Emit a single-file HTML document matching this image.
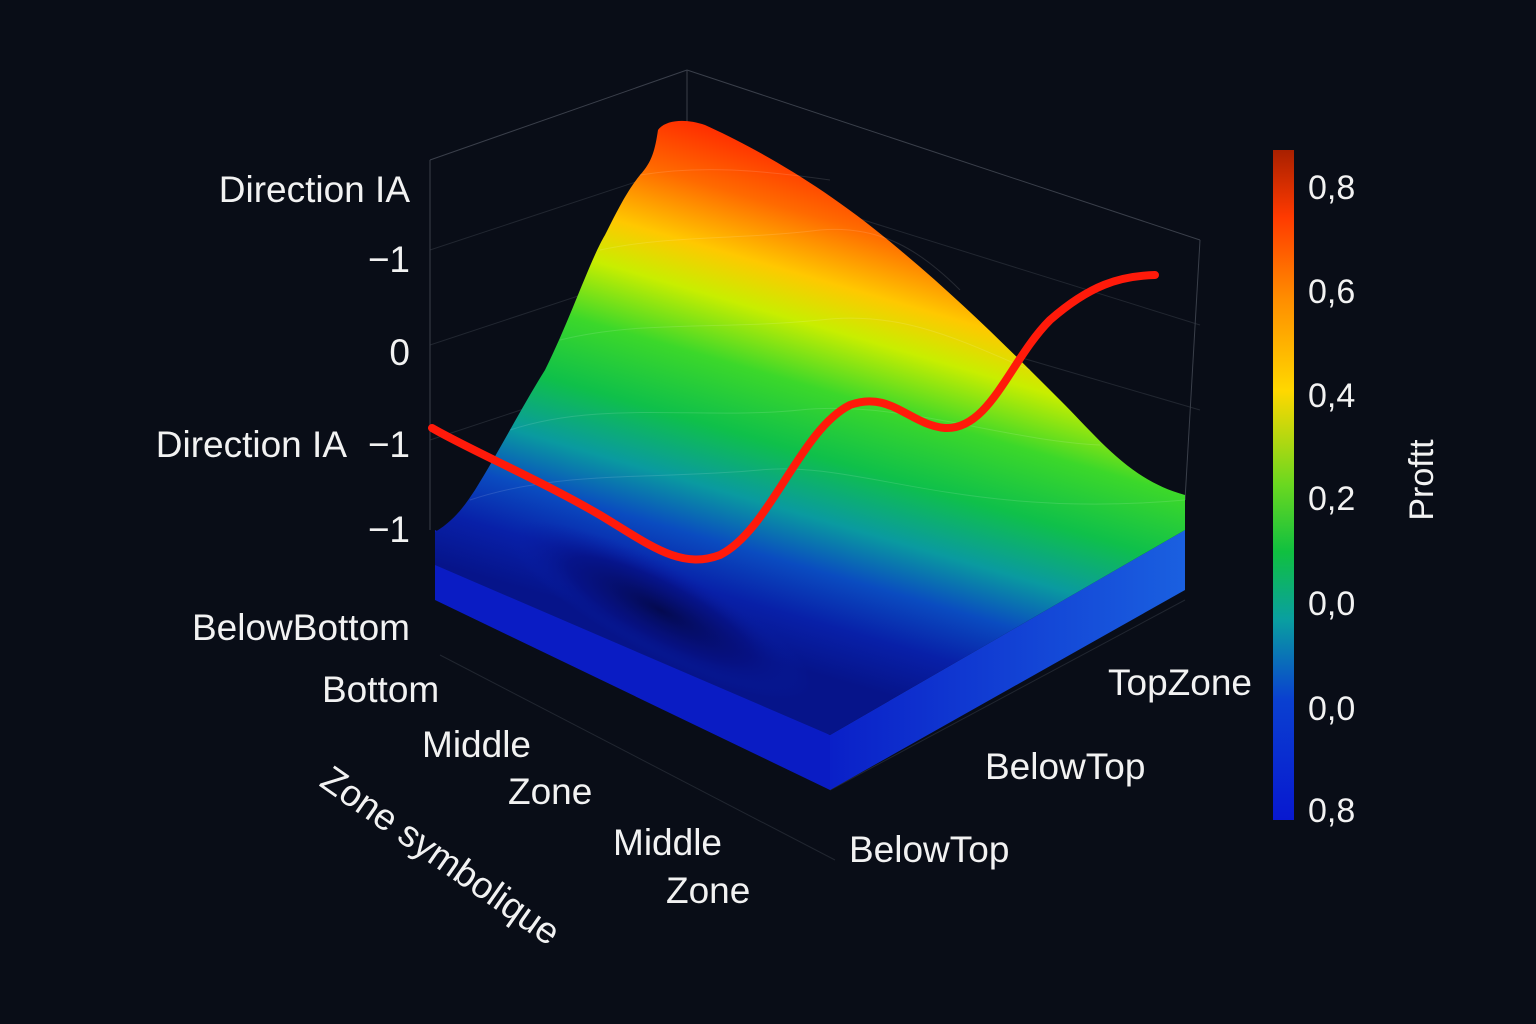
<!DOCTYPE html>
<html><head><meta charset="utf-8"><style>
html,body{margin:0;padding:0;background:#090d17;}
svg{display:block}
text{font-family:"Liberation Sans","DejaVu Sans",sans-serif;fill:#f2f2f2;}
</style></head><body>
<svg width="1536" height="1024" viewBox="0 0 1536 1024" xmlns="http://www.w3.org/2000/svg">
<defs>
<linearGradient id="surf" x1="700" y1="120" x2="560" y2="600" gradientUnits="userSpaceOnUse">
<stop offset="0" stop-color="#ff2a00"/>
<stop offset="0.12" stop-color="#ff6a00"/>
<stop offset="0.24" stop-color="#ffc800"/>
<stop offset="0.33" stop-color="#c8ee00"/>
<stop offset="0.45" stop-color="#3cd82a"/>
<stop offset="0.58" stop-color="#0fc04a"/>
<stop offset="0.7" stop-color="#0a9aa0"/>
<stop offset="0.8" stop-color="#0a4cc0"/>
<stop offset="0.9" stop-color="#0820a8"/>
<stop offset="1" stop-color="#06148a"/>
</linearGradient>
<linearGradient id="cbar" x1="0" y1="150" x2="0" y2="820" gradientUnits="userSpaceOnUse">
<stop offset="0" stop-color="#a82000"/>
<stop offset="0.1" stop-color="#ff3a00"/>
<stop offset="0.22" stop-color="#ff8c00"/>
<stop offset="0.36" stop-color="#ffd800"/>
<stop offset="0.5" stop-color="#6ad820"/>
<stop offset="0.6" stop-color="#10c040"/>
<stop offset="0.7" stop-color="#0aa0a0"/>
<stop offset="0.82" stop-color="#0a40d0"/>
<stop offset="1" stop-color="#0818d0"/>
</linearGradient>
<linearGradient id="rface" x1="830" y1="0" x2="1185" y2="0" gradientUnits="userSpaceOnUse">
<stop offset="0" stop-color="#0a20c8"/>
<stop offset="1" stop-color="#1a60e0"/>
</linearGradient>
<radialGradient id="hole" cx="0.5" cy="0.5" r="0.5">
<stop offset="0" stop-color="#040a50"/>
<stop offset="0.6" stop-color="#061080" stop-opacity="0.7"/>
<stop offset="1" stop-color="#0820a8" stop-opacity="0"/>
</radialGradient>
</defs>
<g stroke="#3a3f4a" stroke-width="1" fill="none">
<line x1="430" y1="160" x2="687" y2="70"/>
<line x1="687" y1="70" x2="1200" y2="240"/>
<line x1="687" y1="70" x2="687" y2="360"/>
<line x1="430" y1="160" x2="430" y2="530"/>
<line x1="1200" y1="240" x2="1185" y2="500"/>
<line x1="430" y1="250" x2="687" y2="165" opacity="0.5"/>
<line x1="430" y1="345" x2="687" y2="260" opacity="0.5"/>
<line x1="430" y1="440" x2="687" y2="355" opacity="0.5"/>
<line x1="687" y1="165" x2="1200" y2="325" opacity="0.5"/>
<line x1="687" y1="260" x2="1200" y2="410" opacity="0.5"/>
<line x1="440" y1="655" x2="835" y2="860" opacity="0.5"/>
<line x1="830" y1="790" x2="1185" y2="600" opacity="0.5"/>
</g>
<polygon points="435,530 830,735 830,790 435,600" fill="#0a1cc4"/>
<polygon points="830,735 1185,530 1185,590 830,790" fill="url(#rface)"/>
<path d="M435,532 C455,520 465,505 475,490 C500,450 520,410 545,370 C570,320 590,260 605,235 C620,205 628,190 640,175 C652,162 655,150 658,130 C665,120 685,118 705,125 C760,150 830,190 900,250 C960,300 1010,350 1060,400 C1100,440 1130,480 1185,495 L1185,530 L830,735 L435,565 Z" fill="url(#surf)"/>
<ellipse cx="660" cy="610" rx="170" ry="45" transform="rotate(28 660 610)" fill="url(#hole)"/>
<g fill="none" stroke="#ffffff" stroke-opacity="0.12" stroke-width="1">
<path d="M470,500 C560,470 650,480 760,470 C860,460 960,520 1185,500"/>
<path d="M510,430 C600,400 700,420 800,410 C900,400 1000,440 1100,445"/>
<path d="M560,340 C640,320 720,330 820,320 C900,310 960,340 1030,370"/>
<path d="M600,250 C670,235 740,240 820,230 C880,225 920,250 960,290"/>
<path d="M640,175 C700,165 760,170 830,180"/>
</g>
<path d="M432,428 C470,450 540,480 600,515 C650,545 680,570 720,555 C770,530 800,430 850,405 C890,390 910,425 945,428 C990,430 1010,360 1050,320 C1090,285 1120,276 1155,275" fill="none" stroke="#ff1a0a" stroke-width="8" stroke-linecap="round"/>
<rect x="1273" y="150" width="21" height="670" fill="url(#cbar)"/>
<g font-size="34">
<text x="1308" y="199">0,8</text>
<text x="1308" y="303">0,6</text>
<text x="1308" y="407">0,4</text>
<text x="1308" y="510">0,2</text>
<text x="1308" y="615">0,0</text>
<text x="1308" y="720">0,0</text>
<text x="1308" y="822">0,8</text>
</g>
<text x="1433" y="480" font-size="34" text-anchor="middle" transform="rotate(-90 1433 480)">Proftt</text>
<g font-size="37" text-anchor="end">
<text x="410" y="202">Direction IA</text>
<text x="410" y="272">−1</text>
<text x="410" y="365">0</text>
<text x="347" y="457">Direction IA</text>
<text x="410" y="457">−1</text>
<text x="410" y="542">−1</text>
<text x="410" y="640">BelowBottom</text>
</g>
<g font-size="37">
<text x="322" y="702">Bottom</text>
<text x="422" y="757">Middle</text>
<text x="508" y="804">Zone</text>
<text x="613" y="855">Middle</text>
<text x="666" y="903">Zone</text>
<text x="1108" y="695">TopZone</text>
<text x="985" y="779">BelowTop</text>
<text x="849" y="862">BelowTop</text>
<text x="318" y="785" transform="rotate(35 318 785)">Zone symbolique</text>
</g>
</svg>
</body></html>
